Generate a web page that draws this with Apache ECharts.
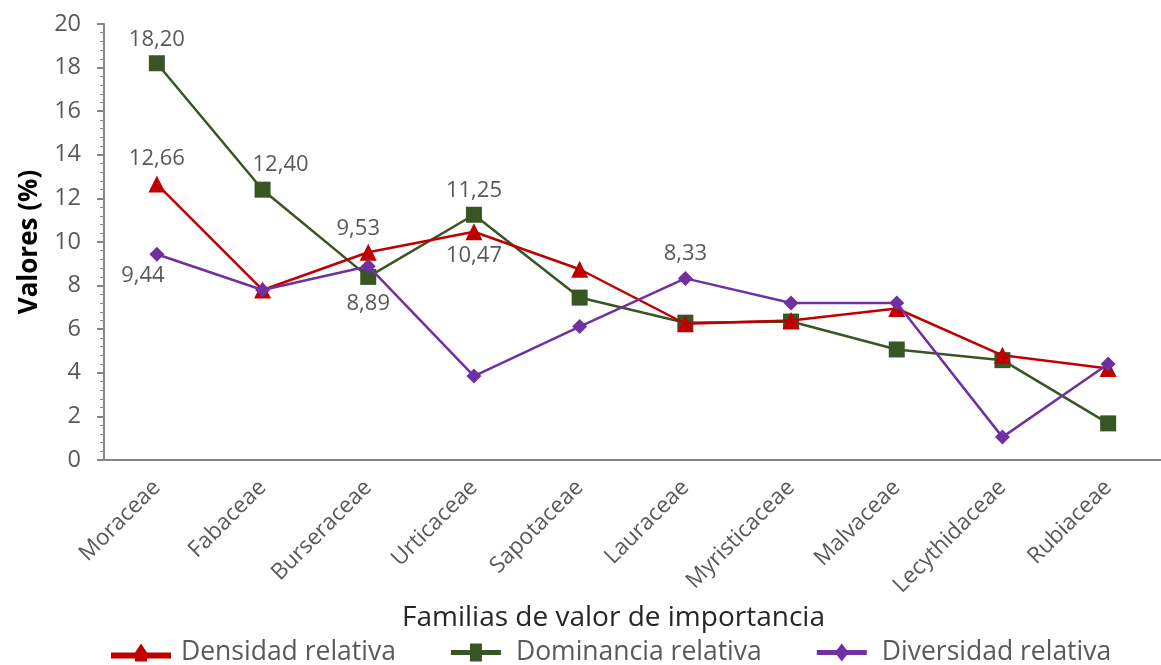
<!DOCTYPE html>
<html>
<head>
<meta charset="utf-8">
<script src="https://cdn.jsdelivr.net/npm/echarts@6/dist/echarts.min.js"></script>
<style>html,body{margin:0;padding:0;background:#fff}#c{width:1161px;height:665px}</style>
</head>
<body>
<div id="c"></div>
<script>
const categories = ['Moraceae','Fabaceae','Burseraceae','Urticaceae','Sapotaceae','Lauraceae','Myristicaceae','Malvaceae','Lecythidaceae','Rubiaceae'];
const densidad = [12.66, 7.8, 9.53, 10.47, 8.75, 6.25, 6.4, 6.95, 4.8, 4.2];
const dominancia = [18.20, 12.40, 8.4, 11.25, 7.45, 6.3, 6.35, 5.07, 4.58, 1.68];
const diversidad = [9.44, 7.8, 8.89, 3.85, 6.12, 8.33, 7.2, 7.2, 1.05, 4.4];
const seriesNames = ['Densidad relativa','Dominancia relativa','Diversidad relativa'];
const yTicks = [0,2,4,6,8,10,12,14,16,18,20];

const FONT = 'Open Sans';
const GRAY = '#595959';
const fmt = v => v.toFixed(2).replace('.', ',');

// label styling per series index (positions/styles, not data)
const labelCfg = {
  0: {0:{position:'top',distance:6}, 2:{position:'top',distance:4,offset:[-10,0]}, 3:{position:'bottom',distance:4}},
  1: {0:{position:'top',distance:5}, 1:{position:'top',distance:6,offset:[18,0]}, 3:{position:'top',distance:5}},
  2: {0:{position:'bottom',distance:3,offset:[-14,0]}, 2:{position:'bottom',distance:19}, 5:{position:'top',distance:6}}
};
function build(vals, si){
  return vals.map((v,i)=>{
    const c = labelCfg[si][i];
    if(!c) return v;
    return {value:v, label:Object.assign({show:true, formatter:p=>fmt(p.value), color:GRAY, fontSize:22, fontFamily:FONT}, c)};
  });
}
const colors = ['#C00000','#375623','#7030A0'];
const symbols = ['triangle','rect','diamond'];
const sizes = [17,16,15];
const icons = [
  'path://M0,45 L40,45 L50,30 L60,45 L100,45 L100,55 L60,55 L60,60 L40,60 L40,55 L0,55 Z',
  'path://M0,45 L38,45 L38,32 L62,32 L62,45 L100,45 L100,55 L62,55 L62,68 L38,68 L38,55 L0,55 Z',
  'path://M0,45 L40,45 L50,32 L60,45 L100,45 L100,55 L60,55 L50,68 L40,55 L0,55 Z'
];
const chart = echarts.init(document.getElementById('c'), null, {renderer:'canvas'});
chart.setOption({
  animation:false,
  textStyle:{fontFamily:FONT},
  grid:{left:104, top:24, width:1060, height:436, containLabel:false},
  legend:{
    bottom:-6, left:106, itemWidth:70, itemHeight:18, itemGap:55,
    textStyle:{fontSize:26.5, color:GRAY, fontFamily:FONT, padding:[0,0,0,0]},
    data:seriesNames.map((n,i)=>({name:n, icon:icons[i]}))
  },
  xAxis:{
    type:'category', data:categories, boundaryGap:true,
    axisLine:{lineStyle:{color:'#868686', width:2}},
    axisTick:{show:false},
    axisLabel:{rotate:45, fontSize:22.5, color:GRAY, fontFamily:FONT, margin:24, interval:0},
    name:'Familias de valor de importancia', nameLocation:'middle', nameGap:128,
    nameTextStyle:{fontSize:28, color:'#262626', fontFamily:FONT, padding:[0,38,0,0]}
  },
  yAxis:{
    type:'value', min:0, max:20, interval:2,
    axisLine:{show:true, lineStyle:{color:'#868686', width:2}},
    axisTick:{show:true, length:7, lineStyle:{color:'#868686', width:2}},
    minorTick:{show:true, splitNumber:5, length:4, lineStyle:{color:'#868686', width:1}},
    splitLine:{show:false},
    axisLabel:{fontSize:23.5, color:GRAY, fontFamily:FONT, margin:23, formatter:v=>yTicks.includes(v)?String(v):''},
    name:'Valores (%)', nameLocation:'middle', nameGap:61, nameRotate:90,
    nameTextStyle:{fontSize:26, color:'#000', fontWeight:'bold', fontFamily:FONT}
  },
  series:[densidad, dominancia, diversidad].map((vals,i)=>({
    name:seriesNames[i], type:'line', data:build(vals,i),
    symbol:symbols[i], symbolSize:sizes[i], showAllSymbol:true,
    lineStyle:{color:colors[i], width:2.5},
    itemStyle:{color:colors[i]},
    z: [3,2,4][i]
  }))
});
</script>
</body>
</html>
